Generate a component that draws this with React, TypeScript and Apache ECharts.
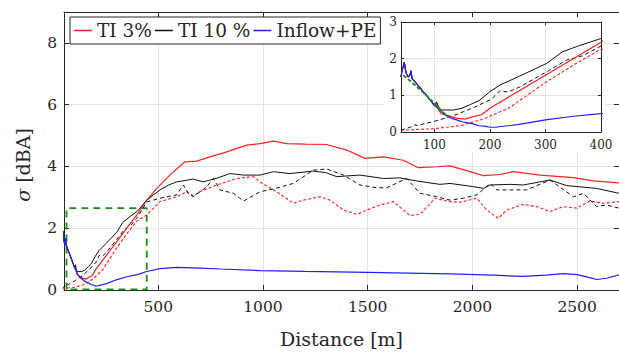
import React, { useEffect, useRef } from "react";
import * as echarts from "echarts";

// ---- data (distance [m], sigma [dBA]) ----
const ti3Solid: number[][] = [
  [40, 1.5], [42, 1.7], [44, 1.78], [46, 1.9], [48, 1.7], [50, 1.58], [53, 1.5], [56, 1.55], [58, 1.65], [60, 1.45],
  [65, 1.38], [70, 1.28], [80, 1.1], [90, 0.92], [100, 0.74], [105, 0.78], [108, 0.6], [112, 0.5], [120, 0.47],
  [130, 0.42], [140, 0.38], [155, 0.35], [170, 0.42], [185, 0.47], [200, 0.65], [250, 1.1], [300, 1.55], [350, 2.0],
  [400, 2.45], [437, 2.84], [493, 3.29], [560, 3.75], [628, 4.15], [684, 4.17], [747, 4.31], [827, 4.47], [922, 4.69],
  [986, 4.74], [1050, 4.82], [1113, 4.74], [1200, 4.72], [1304, 4.71], [1400, 4.53], [1487, 4.26], [1575, 4.31],
  [1670, 4.2], [1742, 3.96], [1830, 3.99], [1893, 4.02], [1989, 3.83], [2053, 3.7], [2132, 3.74], [2196, 3.83],
  [2323, 3.72], [2482, 3.64], [2578, 3.53], [2700, 3.47],
];
const ti3Dashed: number[][] = [
  [40, 0.05], [100, 0.09], [149, 0.18], [191, 0.37], [218, 0.55], [233, 0.64], [302, 1.37], [350, 1.82], [397, 2.23],
  [445, 2.43], [508, 2.86], [588, 3.02], [636, 3.18], [667, 3.05], [699, 3.18], [779, 3.4], [875, 3.61], [954, 3.67],
  [986, 3.5], [1066, 3.18], [1145, 2.81], [1193, 2.91], [1272, 3.02], [1320, 2.91], [1384, 2.59], [1448, 2.45],
  [1495, 2.59], [1559, 2.75], [1623, 2.86], [1702, 2.41], [1750, 2.45], [1822, 2.97], [1893, 2.86], [1941, 2.84],
  [2021, 2.97], [2069, 2.59], [2124, 2.32], [2164, 2.59], [2243, 2.77], [2307, 2.7], [2371, 2.54], [2434, 2.7],
  [2498, 2.65], [2562, 2.88], [2626, 2.81], [2700, 2.86],
];
const ti10Solid: number[][] = [
  [40, 1.5], [42, 1.7], [44, 1.78], [46, 1.9], [48, 1.7], [50, 1.58], [53, 1.5], [56, 1.55], [58, 1.65], [60, 1.45],
  [65, 1.38], [70, 1.28], [80, 1.1], [90, 0.92], [100, 0.74], [104, 0.82], [107, 0.7], [112, 0.6], [120, 0.6],
  [135, 0.6], [150, 0.65], [165, 0.75], [182, 0.87], [200, 1.1], [218, 1.28], [250, 1.5], [302, 1.87], [331, 2.19],
  [360, 2.35], [400, 2.55], [445, 2.91], [508, 3.24], [550, 3.4], [588, 3.5], [667, 3.59], [715, 3.5], [780, 3.62],
  [843, 3.77], [907, 3.72], [986, 3.72], [1050, 3.83], [1129, 3.77], [1241, 3.85], [1300, 3.8], [1352, 3.67],
  [1463, 3.72], [1575, 3.61], [1654, 3.63], [1734, 3.53], [1845, 3.42], [1893, 3.45], [2000, 3.35], [2053, 3.29],
  [2085, 3.4], [2180, 3.42], [2243, 3.4], [2371, 3.56], [2450, 3.38], [2593, 3.29], [2700, 3.13],
];
const ti10Dashed: number[][] = [
  [40, 0.05], [50, 0.1], [60, 0.15], [65, 0.2], [70, 0.17], [80, 0.22], [100, 0.29], [137, 0.46], [173, 0.68],
  [203, 0.9], [218, 1.12], [233, 1.09], [254, 1.23], [302, 1.64], [338, 1.96], [367, 2.08], [397, 2.32], [445, 2.85],
  [508, 2.97], [588, 3.08], [620, 3.4], [643, 3.13], [667, 3.02], [731, 3.34], [763, 3.61], [795, 3.24], [859, 3.13],
  [907, 2.88], [986, 3.18], [1066, 3.3], [1145, 3.45], [1241, 3.88], [1304, 3.92], [1384, 3.72], [1463, 3.4],
  [1543, 3.31], [1591, 3.31], [1686, 3.61], [1750, 3.13], [1830, 3.02], [1893, 2.91], [1957, 2.97], [2021, 3.08],
  [2085, 3.45], [2117, 3.24], [2259, 3.24], [2371, 3.56], [2482, 3.02], [2530, 3.13], [2593, 2.7], [2641, 2.75],
  [2700, 2.65],
];
const inflowPE: number[][] = [
  [40, 1.5], [42, 1.7], [44, 1.78], [46, 1.9], [48, 1.7], [50, 1.58], [53, 1.5], [56, 1.55], [58, 1.68], [60, 1.45],
  [65, 1.38], [70, 1.28], [75, 1.2], [80, 1.1], [85, 1.02], [90, 0.92], [95, 0.82], [100, 0.72], [105, 0.66],
  [110, 0.6], [115, 0.52], [120, 0.46], [130, 0.38], [140, 0.33], [150, 0.28], [160, 0.25], [170, 0.22], [180, 0.17],
  [190, 0.16], [200, 0.13], [210, 0.13], [220, 0.15], [250, 0.2], [300, 0.33], [350, 0.43], [400, 0.5], [445, 0.6],
  [508, 0.69], [588, 0.73], [700, 0.71], [800, 0.68], [986, 0.63], [1200, 0.6], [1500, 0.57], [1893, 0.52],
  [2100, 0.48], [2243, 0.44], [2350, 0.48], [2434, 0.53], [2500, 0.5], [2560, 0.4], [2593, 0.34], [2640, 0.38],
  [2700, 0.49],
];
const zoomBox: number[][] = [[62, 0.02], [62, 2.65], [445, 2.65], [445, 0.02], [62, 0.02]];
const insetFit: number[][] = [[44, 1.55], [60, 1.35], [80, 1.08], [100, 0.78], [110, 0.62], [125, 0.41]];

const mainXTicks = [500, 1000, 1500, 2000, 2500];
const mainYTicks = [0, 2, 4, 6, 8];
const insetXTicks = [100, 200, 300, 400];
const insetYTicks = [0, 1, 2, 3];
const legendNames = ["TI 3%", "TI 10 %", "Inflow+PE"];

const FONT = "DejaVu Serif, Liberation Serif, Noto Serif, FreeSerif, Times New Roman, Times, serif";
const AX = "#262626";
const GRIDC = "#e3e3e3";

export default function App() {
  const ref = useRef<HTMLDivElement>(null);
  useEffect(() => {
    if (!ref.current) return;
    const chart = echarts.init(ref.current, undefined, { renderer: "svg" });
    const fmt = (v: number) => String(v);

    const xAx = (grid: number, pos: string, min: number, max: number, ticks: number[], labels: boolean, tickLen: number, fs: number, z: number, extra: any = {}) => ({
      type: "value", gridIndex: grid, position: pos, min, max, z,
      axisLine: { show: true, onZero: false, lineStyle: { color: AX, width: 1 } },
      axisTick: { show: true, inside: true, length: tickLen, customValues: ticks, lineStyle: { color: AX } },
      axisLabel: { show: labels, customValues: ticks, formatter: fmt, color: AX, fontFamily: FONT, fontSize: fs, margin: grid === 0 ? 9 : 7 },
      splitLine: { show: labels, lineStyle: { color: GRIDC, width: 1 } },
      ...extra,
    });
    const yAx = (grid: number, pos: string, min: number, max: number, ticks: number[], labels: boolean, tickLen: number, fs: number, z: number) => ({
      type: "value", gridIndex: grid, position: pos, min, max, z,
      axisLine: { show: true, onZero: false, lineStyle: { color: AX, width: 1 } },
      axisTick: { show: true, inside: true, length: tickLen, customValues: ticks, lineStyle: { color: AX } },
      axisLabel: { show: labels, customValues: ticks, formatter: fmt, color: AX, fontFamily: FONT, fontSize: fs, margin: grid === 0 ? 7 : 4 },
      splitLine: { show: labels, lineStyle: { color: GRIDC, width: 1 } },
    });

    const line = (name: string, data: number[][], color: string, width: number, type: any, ax: number, z: number) => ({
      type: "line", name, data, xAxisIndex: ax === 0 ? 0 : 2, yAxisIndex: ax === 0 ? 0 : 2,
      symbol: "none", showSymbol: false, silent: true, clip: true, z,
      lineStyle: { color, width, type }, itemStyle: { color },
    });

    const series: any[] = [
      line("box", zoomBox, "#1a8c1a", 1.8, [7, 5], 0, 2),
      line("TI 3% dashed", ti3Dashed, "#ff2020", 1.1, [3, 2], 0, 2),
      line("TI 10 % dashed", ti10Dashed, "#111111", 1.0, [4, 3], 0, 2),
      line("TI 3%", ti3Solid, "#ff2020", 1.2, "solid", 0, 2),
      line("TI 10 %", ti10Solid, "#111111", 1.0, "solid", 0, 2),
      line("Inflow+PE", inflowPE, "#2020ff", 1.2, "solid", 0, 2),
      line("i3d", ti3Dashed, "#ff2020", 1.1, [3, 2], 1, 6),
      line("i10d", ti10Dashed, "#111111", 1.0, [4, 3], 1, 6),
      line("i3", ti3Solid, "#ff2020", 1.2, "solid", 1, 6),
      line("i10", ti10Solid, "#111111", 1.0, "solid", 1, 6),
      line("ipe", inflowPE, "#2020ff", 1.2, "solid", 1, 6),
      line("ifit", insetFit, "#1a8c1a", 1.8, [4, 2], 1, 7),
    ];

    chart.setOption({
      animation: false,
      backgroundColor: "#fff",
      textStyle: { fontFamily: FONT },
      grid: [
        { left: 64, top: 12, width: 555, height: 280, show: false },
        { left: 401, top: 22, width: 200, height: 110, show: false },
      ],
      xAxis: [
        xAx(0, "bottom", 50, 2700, mainXTicks, true, 5, 15.5, 0, {
          name: "Distance [m]", nameLocation: "middle", nameGap: 39,
          nameTextStyle: { fontFamily: FONT, fontSize: 19, color: AX },
        }),
        xAx(0, "top", 50, 2700, mainXTicks, false, 5, 15.5, 0),
        xAx(1, "bottom", 40, 400, insetXTicks, true, 3, 12, 5),
        xAx(1, "top", 40, 400, insetXTicks, false, 3, 12, 5),
      ],
      yAxis: [
        yAx(0, "left", 0, 9, mainYTicks, true, 5, 15.5, 0),
        yAx(0, "right", 0, 9, mainYTicks, false, 5, 15.5, 0),
        yAx(1, "left", 0, 3, insetYTicks, true, 3, 12, 5),
        yAx(1, "right", 0, 3, insetYTicks, false, 3, 12, 5),
      ],
      legend: {
        data: legendNames, left: 70, top: 17, orient: "horizontal",
        icon: "rect", itemGap: 3, itemWidth: 18, itemHeight: 1.5, padding: [4, 4],
        borderColor: AX, borderWidth: 1, borderRadius: 0, backgroundColor: "#fff",
        selectedMode: false,
        textStyle: { fontFamily: FONT, fontSize: 18.5, color: AX },
      },
      graphic: [
        { type: "rect", z: 3, silent: true, shape: { x: 385, y: 18, width: 221, height: 134 }, style: { fill: "#fff" } },
        {
          type: "text", x: 23, y: 165, rotation: Math.PI / 2, z: 3, silent: true,
          style: {
            text: "{i|σ} [dBA]", align: "center", verticalAlign: "middle",
            fontFamily: FONT, fontSize: 19, fill: AX,
            rich: { i: { fontStyle: "italic", fontFamily: FONT, fontSize: 19, fill: AX } },
          },
        },
      ],
      series,
    });
    return () => chart.dispose();
  }, []);
  return <div ref={ref} style={{ width: 619, height: 353, position: "absolute", left: 0, top: 0 }} />;
}
